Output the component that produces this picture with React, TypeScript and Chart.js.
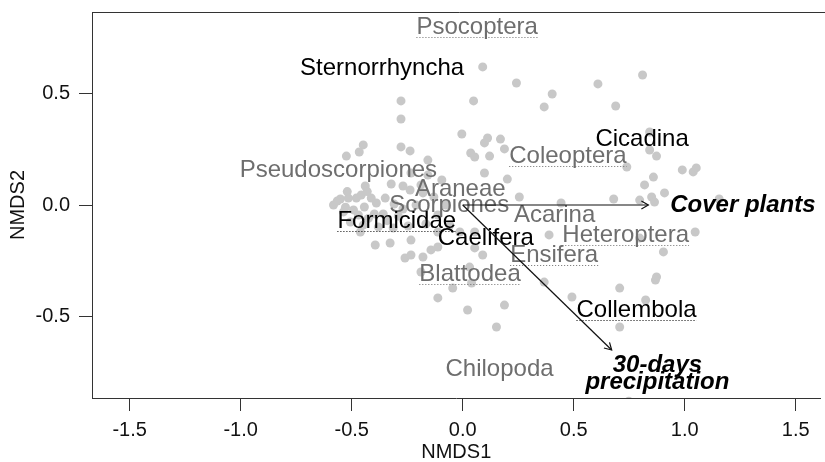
import React, { useEffect, useRef } from "react";
import { Chart, registerables } from "chart.js";
Chart.register(...registerables);

// Site scores (NMDS1, NMDS2)
const siteX = [
  0.090, 0.242, 0.403, 0.367, 0.049, 0.609, 0.810, 0.689, -0.278, -0.278,
  -0.004, -0.278, -0.237, -0.448, -0.466, -0.524, -0.157, -0.094, -0.439, -0.322,
  -0.269, -0.237, -0.188, 0.112, 0.098, 0.170, 0.036, 0.054, 0.121, 0.188,
  0.098, 0.201, 0.255, 0.443, 0.680, 0.797, 0.739, 0.819, 0.859, 0.842,
  0.873, 0.842, 0.909, 0.989, 1.038, 1.052, 0.851, 0.864, 1.155, 1.047,
  0.797, 0.904, 0.873, 0.868, 0.707, 0.824, 0.707, 0.492, 0.367, 0.389,
  0.152, 0.188, 0.022, 0.040, -0.045, -0.112, -0.188, -0.260, -0.233, -0.179,
  -0.143, -0.112, -0.394, -0.327, -0.233, -0.461, 0.031, 0.090, 0.054, 0.054,
  0.748, -0.582, -0.551, -0.515, -0.479, -0.457, -0.412, -0.349, -0.537, -0.492,
  -0.443, -0.389, -0.309, -0.269, -0.210, -0.506, -0.448, -0.380, -0.313, -0.246,
  -0.166, -0.112, -0.076, -0.130, -0.179, -0.058, -0.013, -0.112, -0.358, -0.398,
  -0.233, -0.157, -0.565, -0.528, -0.470, -0.425, -0.340, -0.290, -0.520, -0.430,
];
const siteY = [
  0.618, 0.546, 0.497, 0.439, 0.466, 0.542, 0.582, 0.443, 0.466, 0.385,
  0.318, 0.260, 0.242, 0.269, 0.237, 0.219, 0.201, 0.112, 0.085, 0.094,
  0.085, 0.067, 0.090, 0.300, 0.278, 0.295, 0.233, 0.215, 0.219, 0.251,
  0.143, 0.116, 0.036, 0.009, 0.027, 0.022, 0.170, 0.090, 0.125, 0.246,
  0.219, 0.327, 0.054, 0.157, 0.148, 0.166, 0.036, 0.013, 0.027, -0.121,
  -0.148, -0.210, -0.322, -0.336, -0.372, -0.425, -0.546, -0.412, -0.345, -0.134,
  -0.546, -0.448, -0.470, -0.349, -0.372, -0.416, -0.300, -0.237, -0.224, -0.233,
  -0.201, -0.188, -0.179, -0.170, -0.157, -0.121, -0.278, -0.224, -0.192, -0.121,
  -0.878, 0.000, 0.027, 0.031, 0.031, 0.045, 0.031, 0.031, -0.031, -0.022,
  -0.009, 0.009, 0.004, -0.018, 0.000, -0.076, -0.090, -0.098, -0.103, -0.094,
  -0.085, -0.045, 0.000, 0.036, 0.054, -0.090, -0.121, -0.121, -0.040, -0.040,
  0.143, 0.134, 0.018, -0.010, -0.045, -0.060, -0.070, -0.050, 0.060, 0.060,
];

// Taxon labels
const taxonNames = [
  "Psocoptera", "Sternorrhyncha", "Cicadina", "Coleoptera", "Pseudoscorpiones",
  "Araneae", "Scorpiones", "Formicidae", "Caelifera", "Acarina",
  "Heteroptera", "Ensifera", "Blattodea", "Collembola", "Chilopoda",
];
const taxonX = [0.065, -0.363, 0.808, 0.474, -0.560, -0.011, -0.061, -0.297, 0.104, 0.414, 0.734, 0.412, 0.033, 0.783, 0.166];
const taxonY = [0.804, 0.620, 0.304, 0.228, 0.165, 0.080, 0.009, -0.066, -0.141, -0.039, -0.126, -0.218, -0.300, -0.461, -0.727];
const taxonDark = [false, true, true, false, false, false, false, true, true, false, false, false, false, true, false];
const taxonUnderlined = [true, false, false, true, false, false, false, true, false, false, true, true, true, true, false];

// Environmental vectors
const envLines = [["Cover plants"], ["30-days", "precipitation"]];
const envX = [0.836, 0.671];
const envY = [0.0, -0.649];
const envLabelX = [1.262, 0.877];
const envLabelY = [0.007, -0.747];

const xTicks = [-1.5, -1.0, -0.5, 0.0, 0.5, 1.0, 1.5];
const yTicks = [-0.5, 0.0, 0.5];
const xMin = -1.6697;
const xMax = 1.6115;
const yMin = -0.8639;
const yMax = 0.8639;

const FONT = '"Liberation Sans", Arial, Helvetica, sans-serif';
const AXIS = "#333333";
const GREY_TXT = "#6e6e6e";
const DARK_TXT = "#000000";

const overlay = {
  id: "overlay",
  afterDatasetsDraw(chart: any) {
    const { ctx, chartArea: a, scales } = chart;
    const xs = scales.x;
    const ys = scales.y;
    ctx.save();
    ctx.strokeStyle = AXIS;
    ctx.lineWidth = 1;
    ctx.beginPath();
    ctx.moveTo(a.right + 10, Math.round(a.top) + 0.5);
    ctx.lineTo(Math.round(a.left) + 0.5, Math.round(a.top) + 0.5);
    ctx.lineTo(Math.round(a.left) + 0.5, Math.round(a.bottom) + 0.5);
    ctx.stroke();

    ctx.beginPath();
    ctx.rect(a.left, a.top, a.right - a.left, a.bottom - a.top);
    ctx.clip();

    ctx.font = `24px ${FONT}`;
    ctx.textAlign = "center";
    ctx.textBaseline = "alphabetic";
    taxonNames.forEach((name, i) => {
      const px = xs.getPixelForValue(taxonX[i]);
      const py = ys.getPixelForValue(taxonY[i]) + 8.6;
      const col = taxonDark[i] ? DARK_TXT : GREY_TXT;
      ctx.fillStyle = col;
      ctx.fillText(name, px, py);
      if (taxonUnderlined[i]) {
        const w = ctx.measureText(name).width;
        ctx.save();
        ctx.strokeStyle = col;
        ctx.lineWidth = 1;
        ctx.setLineDash([1, 2]);
        ctx.beginPath();
        ctx.moveTo(px - w / 2, Math.round(py + 3) + 0.5);
        ctx.lineTo(px + w / 2, Math.round(py + 3) + 0.5);
        ctx.stroke();
        ctx.restore();
      }
    });

    const ox = xs.getPixelForValue(0);
    const oy = ys.getPixelForValue(0);
    ctx.strokeStyle = "#111111";
    ctx.lineWidth = 1.2;
    envX.forEach((ex, i) => {
      const tx = xs.getPixelForValue(ex);
      const ty = ys.getPixelForValue(envY[i]);
      ctx.beginPath();
      ctx.moveTo(ox, oy);
      ctx.lineTo(tx, ty);
      ctx.stroke();
      const ang = Math.atan2(ty - oy, tx - ox);
      const L = 8;
      const spread = Math.PI / 6;
      ctx.beginPath();
      ctx.moveTo(tx - L * Math.cos(ang - spread), ty - L * Math.sin(ang - spread));
      ctx.lineTo(tx, ty);
      ctx.lineTo(tx - L * Math.cos(ang + spread), ty - L * Math.sin(ang + spread));
      ctx.stroke();
    });

    ctx.font = `italic bold 24px ${FONT}`;
    ctx.fillStyle = "#000000";
    ctx.textAlign = "center";
    const lh = 17;
    envLines.forEach((lines, i) => {
      const px = xs.getPixelForValue(envLabelX[i]);
      const cy = ys.getPixelForValue(envLabelY[i]);
      const n = lines.length;
      lines.forEach((t, j) => {
        const py = cy + (j - (n - 1) / 2) * lh + 8.6;
        ctx.fillText(t, px, py);
      });
    });
    ctx.restore();
  },
};

export default function App() {
  const ref = useRef<HTMLCanvasElement | null>(null);
  useEffect(() => {
    if (!ref.current) return;
    const chart = new Chart(ref.current, {
      type: "scatter",
      data: {
        datasets: [
          {
            data: siteX.map((v, i) => ({ x: v, y: siteY[i] })),
            backgroundColor: "#c8c8c8",
            borderWidth: 0,
            pointRadius: 4.5,
            pointHoverRadius: 4.5,
          },
        ],
      },
      options: {
        animation: false,
        responsive: false,
        maintainAspectRatio: false,
        devicePixelRatio: 1,
        events: [],
        layout: { padding: { top: 12, right: 0, bottom: 0, left: 0 } },
        plugins: { legend: { display: false }, tooltip: { enabled: false } },
        scales: {
          x: {
            type: "linear",
            min: xMin,
            max: xMax,
            afterBuildTicks: (s: any) => {
              s.ticks = xTicks.map((v) => ({ value: v }));
            },
            afterFit: (s: any) => {
              s.height = 64;
              s.paddingLeft = 0;
              s.paddingRight = 0;
            },
            grid: { drawOnChartArea: false, drawTicks: true, tickLength: 13, tickColor: AXIS, tickWidth: 1 },
            border: { display: true, color: AXIS, width: 1 },
            ticks: {
              padding: 9,
              color: "#111111",
              autoSkip: false,
              maxRotation: 0,
              font: { family: FONT, size: 20, lineHeight: 1 },
              callback: (v: any) => Number(v).toFixed(1),
            },
            title: {
              display: true,
              text: "NMDS1",
              color: "#111111",
              font: { family: FONT, size: 20, lineHeight: 1 },
              padding: { top: 0, bottom: 0 },
            },
          },
          y: {
            type: "linear",
            min: yMin,
            max: yMax,
            afterBuildTicks: (s: any) => {
              s.ticks = yTicks.map((v) => ({ value: v }));
            },
            afterFit: (s: any) => {
              s.width = 92;
              s.paddingTop = 0;
              s.paddingBottom = 0;
            },
            grid: { drawOnChartArea: false, drawTicks: true, tickLength: 13, tickColor: AXIS, tickWidth: 1 },
            border: { display: true, color: AXIS, width: 1 },
            ticks: {
              padding: 9,
              color: "#111111",
              autoSkip: false,
              font: { family: FONT, size: 20, lineHeight: 1 },
              callback: (v: any) => Number(v).toFixed(1),
            },
            title: {
              display: true,
              text: "NMDS2",
              color: "#111111",
              font: { family: FONT, size: 20, lineHeight: 1 },
              padding: { top: 8, bottom: 0 },
            },
          },
        },
      },
      plugins: [overlay],
    });
    return () => chart.destroy();
  }, []);
  return (
    <div style={{ position: "fixed", left: 0, top: 0, width: 825, height: 462, background: "#ffffff" }}>
      <canvas ref={ref} width={825} height={462} style={{ display: "block" }} />
    </div>
  );
}
